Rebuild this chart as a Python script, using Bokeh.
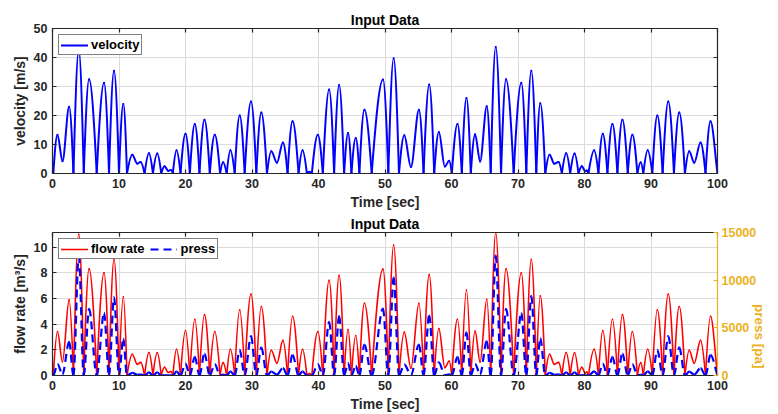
import math
from bokeh.plotting import figure
from bokeh.models import Range1d, LinearAxis, FixedTicker, ColumnDataSource
from bokeh.layouts import column
from bokeh.embed import file_html
from bokeh.resources import INLINE

# ---------------- data (extrema of each lobe) ----------------
t_ext = [0.0, 0.12, 0.75, 1.5, 2.5, 3.15, 3.95, 4.7, 5.5, 6.65, 7.75, 8.5, 9.25, 10.0, 10.65, 11.2,
         12.0, 12.75, 13.25, 13.85, 14.5, 15.1, 15.75, 16.35, 16.85, 17.4, 17.8, 18.1, 18.65, 19.25,
         20.0, 20.65, 21.4, 22.1, 22.85, 23.65, 24.4, 25.2, 25.65, 26.2, 26.75, 27.4, 28.15, 28.9,
         29.85, 30.65, 31.4, 32.25, 32.9, 33.75, 34.65, 35.35, 36.1, 37.0, 37.6, 38.25, 38.6, 39.0,
         39.9, 40.65, 41.6, 42.35, 43.1, 43.85, 44.45, 44.95, 45.6, 46.15, 46.9, 48.0, 49.7, 50.5,
         51.3, 52.1, 52.9, 53.9, 55.1, 55.8, 56.65, 57.4, 58.1, 59.0, 59.65, 60.05, 60.9, 61.55,
         62.25, 62.9, 63.55, 64.3, 65.3, 65.9, 66.65, 67.45, 68.2, 69.35, 70.5, 71.25, 72.0, 72.75,
         73.35, 74.1, 74.75, 75.45, 76.1, 76.6, 77.25, 77.85, 78.5, 79.1, 79.6, 80.1, 80.35, 80.6,
         81.45, 82.1, 82.75, 83.45, 84.2, 84.95, 85.7, 86.5, 87.2, 87.95, 88.45, 88.85, 89.5, 90.2,
         90.95, 91.75, 92.6, 93.45, 94.25, 95.1, 95.75, 96.5, 97.45, 98.2, 98.95, 100.0]

velocity = [4.0, 0, 13.4, 4.2, 23.0, 0, 42.5, 0, 32.5, 0, 31.3, 0, 35.4, 0, 24.0, 0,
            6.5, 3.4, 4.0, 0, 7.0, 0, 6.9, 0, 2.5, 0.9, 1.2, 0, 8.0, 0,
            13.7, 0, 17.1, 0, 18.5, 0, 13.4, 0, 3.9, 0, 8.0, 0, 20.0, 0,
            24.8, 0, 21.0, 0, 7.7, 3.7, 10.7, 0, 18.0, 0, 8.0, 0, 0.6, 0,
            13.4, 0, 29.0, 0, 30.5, 0, 14.0, 0, 12.2, 0, 22.0, 0, 32.4, 0,
            39.7, 0, 13.2, 2.2, 22.0, 0, 30.7, 0, 14.3, 2.4, 4.4, 0, 17.1, 0,
            26.0, 0, 13.5, 4.1, 23.2, 0, 43.6, 0, 32.5, 0, 31.3, 0, 35.4, 0,
            24.2, 0, 6.5, 3.4, 4.0, 0, 7.0, 0, 6.9, 0, 2.5, 0.8, 1.0, 0,
            8.0, 0, 13.7, 0, 17.1, 0, 18.5, 0, 13.4, 0, 3.9, 0, 8.0, 0,
            20.0, 0, 24.8, 0, 21.0, 0, 7.7, 3.7, 10.7, 0, 18.0, 0]

flow_rate = [1.02, 0, 3.43, 1.08, 5.89, 0, 11.0, 0, 8.32, 0, 8.01, 0, 9.06, 0, 6.14, 0,
             1.66, 0.87, 1.02, 0, 1.79, 0, 1.77, 0, 0.64, 0.23, 0.31, 0, 2.05, 0,
             3.51, 0, 4.38, 0, 4.74, 0, 3.43, 0, 1.0, 0, 2.05, 0, 5.12, 0,
             6.35, 0, 5.38, 0, 1.97, 0.95, 2.74, 0, 4.61, 0, 2.05, 0, 0.15, 0,
             3.43, 0, 7.42, 0, 7.81, 0, 3.58, 0, 3.12, 0, 5.63, 0, 8.29, 0,
             10.16, 0, 3.38, 0.56, 5.63, 0, 7.86, 0, 3.66, 0.61, 1.13, 0, 4.38, 0,
             6.66, 0, 3.46, 1.05, 5.94, 0, 11.14, 0, 8.32, 0, 8.01, 0, 9.06, 0,
             6.2, 0, 1.66, 0.87, 1.02, 0, 1.79, 0, 1.77, 0, 0.64, 0.2, 0.26, 0,
             2.05, 0, 3.51, 0, 4.38, 0, 4.74, 0, 3.43, 0, 1.0, 0, 2.05, 0,
             5.12, 0, 6.35, 0, 5.38, 0, 1.97, 0.95, 2.74, 0, 4.61, 0]

press = [110, 0, 1200, 120, 3540, 0, 12600, 0, 7000, 0, 6560, 0, 8200, 0, 3860, 0,
         280, 80, 110, 0, 330, 0, 320, 0, 42, 5, 10, 0, 430, 0,
         1260, 0, 1960, 0, 2290, 0, 1200, 0, 100, 0, 430, 0, 2680, 0,
         4120, 0, 2950, 0, 400, 90, 770, 0, 2170, 0, 430, 0, 2, 0,
         1200, 0, 5630, 0, 6230, 0, 1310, 0, 1000, 0, 3240, 0, 7030, 0,
         10300, 0, 1170, 32, 3240, 0, 6310, 0, 1370, 40, 130, 0, 1960, 0,
         4530, 0, 1220, 110, 3610, 0, 12600, 0, 7000, 0, 6560, 0, 8350, 0,
         3920, 0, 280, 80, 110, 0, 330, 0, 320, 0, 42, 4, 7, 0,
         430, 0, 1260, 0, 1960, 0, 2290, 0, 1200, 0, 100, 0, 430, 0,
         2680, 0, 4120, 0, 2950, 0, 400, 90, 770, 0, 2170, 0]

x_ticks = [0, 10, 20, 30, 40, 50, 60, 70, 80, 90, 100]
vel_ticks = [0, 10, 20, 30, 40, 50]
flow_ticks = [0, 2, 4, 6, 8, 10]
press_ticks = [0, 5000, 10000, 15000]

assert len(t_ext) == len(velocity) == len(flow_rate) == len(press)

# ---------------- styling ----------------
FONT = "Liberation Sans"
AX = "#262626"
ORANGE = "#EDB120"
GRID = "#dcdcdc"


def bezier_cols(xs, ys, cusp):
    """Control points for drawing lobes between read extrema with Bezier glyphs."""
    n = len(xs)
    kind = []
    for i in range(n):
        if i == 0 or i == n - 1:
            kind.append("end")
        elif ys[i] >= ys[i - 1] and ys[i] >= ys[i + 1]:
            kind.append("max")
        else:
            kind.append("min")
    d = {k: [] for k in ["x0", "y0", "x1", "y1", "cx0", "cy0", "cx1", "cy1"]}
    for i in range(n - 1):
        xa, ya, xb, yb = xs[i], ys[i], xs[i + 1], ys[i + 1]
        dx, dy = xb - xa, yb - ya
        if kind[i] == "end":
            c0 = (xa + dx / 3, ya + dy / 3)
        elif cusp and kind[i] == "min" and ya == 0:
            c0 = (xa + dx / 3, ya + 0.5236 * dy)
        else:
            c0 = (xa + dx / 3, ya)
        if kind[i + 1] == "end":
            c1 = (xb - dx / 3, yb - dy / 3)
        elif cusp and kind[i + 1] == "min" and yb == 0:
            c1 = (xb - dx / 3, yb - 0.5236 * dy)
        else:
            c1 = (xb - dx / 3, yb)
        d["x0"].append(xa); d["y0"].append(ya)
        d["x1"].append(xb); d["y1"].append(yb)
        d["cx0"].append(c0[0]); d["cy0"].append(c0[1])
        d["cx1"].append(c1[0]); d["cy1"].append(c1[1])
    return d


def style_axis(ax, ticks, labels=True, color=AX):
    ax.ticker = FixedTicker(ticks=ticks)
    ax.major_tick_in = 4
    ax.major_tick_out = 0
    ax.minor_tick_line_color = None
    ax.axis_line_color = color
    ax.axis_line_width = 1.2
    ax.major_tick_line_color = color
    ax.major_tick_line_width = 1.2
    ax.major_label_text_font = FONT
    ax.major_label_text_font_style = "bold"
    if labels:
        ax.major_label_text_font_size = "12.5px"
        ax.major_label_text_color = color
        ax.major_label_standoff = 5
    else:
        ax.major_label_text_font_size = "1px"
        ax.major_label_text_color = None
        ax.major_label_standoff = 0
    ax.axis_label_text_font = FONT
    ax.axis_label_text_font_style = "bold"
    ax.axis_label_text_font_size = "14px"
    ax.axis_label_text_color = color
    ax.axis_label_standoff = 3


def make_fig(height, ylim, yticks, btop, bbottom, ylabel):
    p = figure(width=778, height=height, x_range=Range1d(0, 100), y_range=Range1d(*ylim),
               output_backend="svg", toolbar_location=None,
               min_border_left=52, min_border_right=61,
               min_border_top=btop, min_border_bottom=bbottom,
               background_fill_color="white", border_fill_color="white")
    p.outline_line_color = None
    p.title.text = "Input Data"
    p.title.align = "center"
    p.title.text_font = FONT
    p.title.text_font_style = "bold"
    p.title.text_font_size = "14px"
    p.title.text_color = "black"
    p.title.standoff = 2
    style_axis(p.xaxis[0], x_ticks)
    p.xaxis[0].axis_label = "Time [sec]"
    style_axis(p.yaxis[0], yticks)
    p.yaxis[0].axis_label = ylabel
    top_ax = LinearAxis()
    style_axis(top_ax, x_ticks, labels=False)
    p.add_layout(top_ax, "above")
    p.xgrid.ticker = FixedTicker(ticks=x_ticks)
    p.ygrid.ticker = FixedTicker(ticks=yticks)
    for g in (p.xgrid, p.ygrid):
        g.grid_line_color = GRID
        g.grid_line_width = 1
    return p


def style_legend(lg, horizontal=False):
    lg.location = "top_left"
    lg.margin = 6
    lg.padding = 2
    lg.spacing = 6
    lg.glyph_width = 27
    lg.glyph_height = 12
    lg.label_height = 12
    lg.label_standoff = 3
    lg.border_line_color = "black"
    lg.border_line_width = 1
    lg.background_fill_color = "white"
    lg.background_fill_alpha = 1
    lg.label_text_font = FONT
    lg.label_text_font_style = "bold"
    lg.label_text_font_size = "13px"
    lg.label_text_color = "black"
    if horizontal:
        lg.orientation = "horizontal"


# ---------------- top: velocity ----------------
p1 = make_fig(212, (0, 50), vel_ticks, 28, 38, "velocity [m/s]")
right1 = LinearAxis()
style_axis(right1, vel_ticks, labels=False)
p1.add_layout(right1, "right")
p1.bezier(x0="x0", y0="y0", x1="x1", y1="y1", cx0="cx0", cy0="cy0", cx1="cx1", cy1="cy1",
          source=ColumnDataSource(bezier_cols(t_ext, velocity, True)),
          line_color="#0000FF", line_width=2, line_cap="round", legend_label="velocity")
style_legend(p1.legend[0])

# ---------------- bottom: flow rate + press ----------------
p2 = make_fig(202, (0, 11.14), flow_ticks, 20, 36, "flow rate [m\u00b3/s]")
p2.extra_y_ranges = {"press": Range1d(0, 15000)}
right2 = LinearAxis(y_range_name="press")
style_axis(right2, press_ticks, labels=True, color=ORANGE)
right2.major_label_standoff = 4
right2.axis_label = "press [pa]"
right2.axis_label_standoff = 0
right2.axis_label_text_font_size = "13.5px"
if "axis_label_orientation" in right2.properties():
    try:
        right2.axis_label_orientation = -math.pi / 2
    except Exception:
        pass
p2.add_layout(right2, "right")
p2.bezier(x0="x0", y0="y0", x1="x1", y1="y1", cx0="cx0", cy0="cy0", cx1="cx1", cy1="cy1",
          source=ColumnDataSource(bezier_cols(t_ext, flow_rate, True)),
          line_color="#FF0000", line_width=1.6, line_cap="round", legend_label="flow rate")
p2.bezier(x0="x0", y0="y0", x1="x1", y1="y1", cx0="cx0", cy0="cy0", cx1="cx1", cy1="cy1",
          source=ColumnDataSource(bezier_cols(t_ext, press, False)),
          y_range_name="press",
          line_color="#0000FF", line_width=2.2, line_dash="8 5", legend_label="press")
style_legend(p2.legend[0], horizontal=True)

layout = column(p1, p2, spacing=0)
open("out.html", "w").write(file_html(layout, INLINE))
